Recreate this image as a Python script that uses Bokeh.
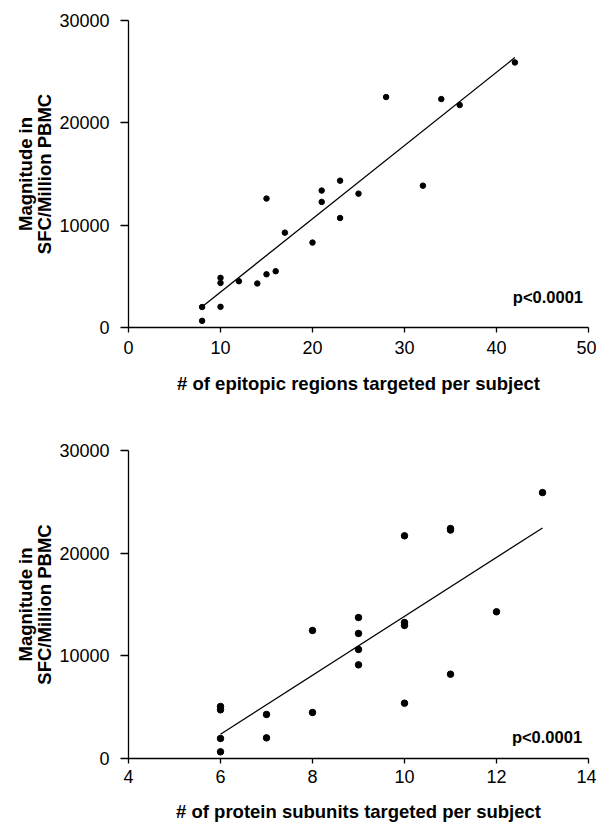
import numpy as np
from bokeh.plotting import figure
from bokeh.layouts import column
from bokeh.models import Range1d, FixedTicker, NumeralTickFormatter, Label
from bokeh.embed import file_html
from bokeh.resources import INLINE

# Top panel: epitopic regions targeted vs magnitude
epi_x = [8, 8, 10, 10, 10, 12, 14, 15, 15, 16, 17, 20, 21, 21, 23, 23, 25, 28, 32, 34, 36, 42]
epi_y = [2000, 650, 4850, 4360, 2020, 4520, 4300, 5200, 12600, 5500, 9270, 8300,
         13380, 12270, 14350, 10700, 13080, 22520, 13860, 22320, 21740, 25900]

# Bottom panel: protein subunits targeted vs magnitude
sub_x = [6, 6, 6, 6, 7, 7, 8, 8, 9, 9, 9, 9, 10, 10, 10, 10, 11, 11, 11, 12, 13]
sub_y = [650, 1950, 5070, 4740, 4290, 2010, 4480, 12470, 13730, 12180, 10620, 9120,
         21690, 13250, 12960, 5390, 22400, 22250, 8210, 14290, 25900]

top_xticks = [0, 10, 20, 30, 40, 50]
bot_xticks = [4, 6, 8, 10, 12, 14]
yticks = [0, 10000, 20000, 30000]

FONT = "Liberation Sans"


def make_panel(xs, ys, xr, xticks, xlabel, msize, height, top_border, bottom_border,
               tick_standoff, label_standoff, p_x, p_y):
    p = figure(width=596, height=height, output_backend="svg", toolbar_location=None,
               x_range=Range1d(*xr), y_range=Range1d(0, 30000),
               min_border_left=128, min_border_right=8,
               min_border_top=top_border, min_border_bottom=bottom_border)
    p.grid.visible = False
    p.outline_line_color = None
    p.background_fill_color = "white"
    p.border_fill_color = "white"

    p.xaxis.ticker = FixedTicker(ticks=xticks)
    p.yaxis.ticker = FixedTicker(ticks=yticks)
    p.yaxis.formatter = NumeralTickFormatter(format="0")
    for ax in (p.xaxis, p.yaxis):
        ax.axis_line_color = "black"
        ax.axis_line_width = 1.3
        ax.major_tick_line_color = "black"
        ax.major_tick_line_width = 1.3
        ax.minor_tick_line_color = None
        ax.major_tick_in = 0
        ax.major_label_text_font = FONT
        ax.major_label_text_font_size = "18px"
        ax.major_label_text_color = "black"
        ax.axis_label_text_font = FONT
        ax.axis_label_text_font_size = "18.5px"
        ax.axis_label_text_font_style = "bold"
        ax.axis_label_text_color = "black"
        ax.axis_label_text_line_height = 0.92
    p.xaxis.major_tick_out = 5
    p.yaxis.major_tick_out = 8
    p.xaxis.major_label_standoff = tick_standoff
    p.yaxis.major_label_standoff = 11
    p.xaxis.axis_label = xlabel
    p.xaxis.axis_label_standoff = label_standoff
    p.yaxis.axis_label = "Magnitude in\nSFC/Million PBMC"
    p.yaxis.axis_label_standoff = 1

    xa = np.array(xs, dtype=float)
    ya = np.array(ys, dtype=float)
    slope, intercept = np.polyfit(xa, ya, 1)
    lx = [xa.min(), xa.max()]
    ly = [slope * v + intercept for v in lx]
    p.line(lx, ly, line_color="black", line_width=1.3)
    p.scatter(xs, ys, size=msize, marker="circle", fill_color="black", line_color="black")

    p.add_layout(Label(x=p_x, y=p_y, text="p<0.0001", text_align="right",
                       text_baseline="middle", text_font=FONT, text_font_size="16.5px",
                       text_font_style="bold", text_color="black"))
    return p


top = make_panel(epi_x, epi_y, (0, 50), top_xticks,
                 "# of epitopic regions targeted per subject", 5.5, 411, 20, 84, 8, 16,
                 49.4, 2990)
bot = make_panel(sub_x, sub_y, (4, 14), bot_xticks,
                 "# of protein subunits targeted per subject", 6.5, 413, 39, 66, 6, 15,
                 13.86, 2140)

layout = column(top, bot, spacing=0)
open("out.html", "w").write(file_html(layout, INLINE))
